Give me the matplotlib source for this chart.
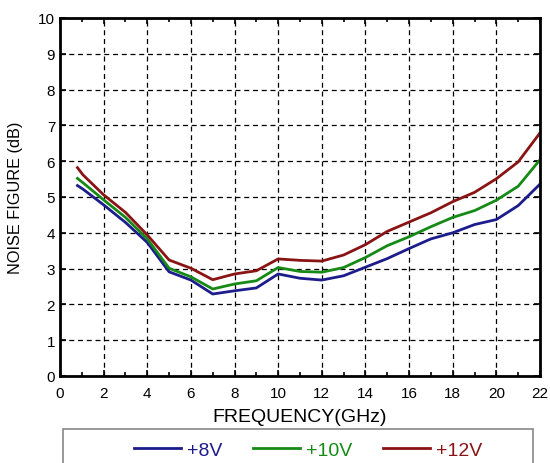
import matplotlib
matplotlib.use("Agg")
import matplotlib.pyplot as plt
import matplotlib.patches as patches

plt.rcParams['font.family'] = ['Liberation Sans', 'DejaVu Sans']

# frequency points (GHz)
freq = [0.8, 1.05, 2, 3, 4, 5, 6, 7, 8, 9, 10, 11, 12, 13, 14, 15, 16, 17, 18, 19, 20, 21, 22]

# noise figure (dB) per bias voltage
nf_8v = [5.32, 5.22, 4.78, 4.29, 3.73, 2.91, 2.68, 2.29, 2.38, 2.46, 2.85, 2.73, 2.68, 2.80,
         3.04, 3.28, 3.56, 3.83, 4.00, 4.23, 4.37, 4.76, 5.36]
nf_10v = [5.52, 5.40, 4.92, 4.43, 3.83, 3.01, 2.77, 2.43, 2.57, 2.66, 3.03, 2.92, 2.90, 3.03,
          3.31, 3.64, 3.89, 4.17, 4.43, 4.62, 4.91, 5.30, 6.04]
nf_12v = [5.82, 5.62, 5.06, 4.57, 3.94, 3.24, 3.01, 2.69, 2.85, 2.94, 3.27, 3.23, 3.21, 3.38,
          3.67, 4.04, 4.30, 4.56, 4.87, 5.13, 5.51, 5.98, 6.79]

labels = ['+8V', '+10V', '+12V']
colors = ['#1c1c8c', '#168a16', '#8a1414']

fig = plt.figure(figsize=(5.5, 4.64), dpi=100)
ax = fig.add_axes([60 / 550, 1 - 377 / 464, 480 / 550, 358 / 464])

lines = []
for ys, lab, col in zip([nf_8v, nf_10v, nf_12v], labels, colors):
    ln, = ax.plot(freq, ys, color=col, linewidth=2, label=lab)
    lines.append(ln)

ax.set_xlim(0, 22)
ax.set_ylim(0, 10)
ax.set_xticks(range(0, 23, 2))
ax.set_xticks(range(1, 23, 2), minor=True)
ax.set_yticks(range(0, 11))
ax.grid(True, which='major', color='black', linestyle=(0, (4, 3)), linewidth=0.9)
ax.tick_params(which='both', direction='in', top=True, right=True, labelsize=11,
               width=1.2, color='black')
ax.tick_params(which='major', length=4)
ax.tick_params(which='minor', length=3)
ax.tick_params(axis='x', pad=7)
for sp in ax.spines.values():
    sp.set_linewidth(2)

ax.set_xlabel('FREQUENCY(GHz)', fontsize=14, labelpad=6)
ax.set_ylabel('NOISE FIGURE (dB)', fontsize=11.7, labelpad=11)

# legend box (its lower edge runs off the bottom of the image)
frame = patches.Rectangle((63 / 550, -0.05), 470 / 550, 0.05 + 1 - 430 / 464,
                          transform=fig.transFigure, facecolor='white',
                          edgecolor='#888888', linewidth=1.2)
fig.patches.append(frame)

leg = fig.legend(lines, labels, loc='center', bbox_to_anchor=(0.56, 1 - 451 / 464),
                 ncol=3, frameon=False, fontsize=14, handlelength=2.4,
                 handletextpad=0.3, columnspacing=1.6)
for txt, col in zip(leg.get_texts(), colors):
    txt.set_color(col)

fig.savefig('out.png', dpi=100)
